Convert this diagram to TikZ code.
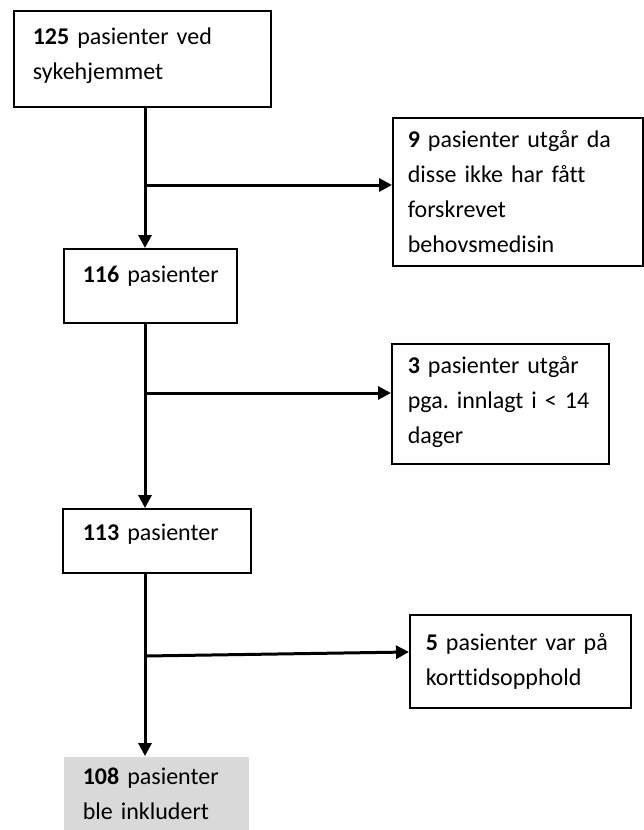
\documentclass[tikz,border=0pt]{standalone}
\usepackage{fontspec}
\setmainfont{Carlito}[Ligatures={NoCommon}]
\usetikzlibrary{arrows.meta}
\definecolor{boxgray}{HTML}{D9D9D9}
\frenchspacing
\begin{document}
\begin{tikzpicture}[x=1pt,y=-1pt,
  box/.style={draw=black, line width=1.6pt, anchor=north west, align=left,
    inner ysep=0pt, font=\fontsize{24}{35}\selectfont},
  graybox/.style={box, draw=none, fill=boxgray},
  raisetext/.style={execute at end node={\endgraf\vspace{#1}}},
  arr/.style={line width=3pt, -{Triangle[length=13pt,width=13pt]}}]
\useasboundingbox (0,0) rectangle (643,830);

\node[box, minimum width=257pt, minimum height=96pt, text width=219pt, inner xsep=19pt, raisetext=6pt] (b1) at (13,10)
  {\mbox{\textbf{125} pasienter ved}\\\mbox{sykehjemmet}};
\node[box, minimum width=250pt, minimum height=148pt, text width=220pt, inner xsep=15pt] (b9) at (392,117)
  {\mbox{\textbf{9} pasienter utgår da}\\\mbox{disse ikke har fått}\\\mbox{forskrevet}\\\mbox{behovsmedisin}};
\node[box, minimum width=173pt, minimum height=74pt, text width=135pt, inner xsep=19pt, raisetext=20pt] (b116) at (63,248)
  {\mbox{\textbf{116} pasienter}};
\node[box, minimum width=217pt, minimum height=120pt, text width=185pt, inner xsep=16pt, raisetext=4pt] (b3) at (391,343)
  {\mbox{\textbf{3} pasienter utgår}\\\mbox{pga. innlagt i < 14}\\\mbox{dager}};
\node[box, minimum width=188pt, minimum height=64pt, text width=148pt, inner xsep=20pt, raisetext=14pt] (b113) at (62,508)
  {\mbox{\textbf{113} pasienter}};
\node[box, minimum width=221pt, minimum height=93pt, text width=189pt, inner xsep=16pt] (b5) at (409,614)
  {\mbox{\textbf{5} pasienter var på}\\\mbox{korttidsopphold}};
\node[graybox, minimum width=185pt, minimum height=74pt, text width=147pt, inner xsep=19pt] (b108) at (63,756)
  {\mbox{\textbf{108} pasienter}\\\mbox{ble inkludert}};

\coordinate (trunk) at (145,0);
\coordinate (j1) at (145,185);
\coordinate (j2) at (145,393);
\coordinate (j3) at (145,656);
\coordinate (e3) at (409,652);

\draw[arr] (b1.south -| trunk) -- (b116.north -| trunk);
\draw[arr] (b116.south -| trunk) -- (b113.north -| trunk);
\draw[arr] (b113.south -| trunk) -- (b108.north -| trunk);
\draw[arr] (j1) -- (j1 -| b9.west);
\draw[arr] (j2) -- (j2 -| b3.west);
\draw[arr] (j3) -- (e3);
\end{tikzpicture}
\end{document}
